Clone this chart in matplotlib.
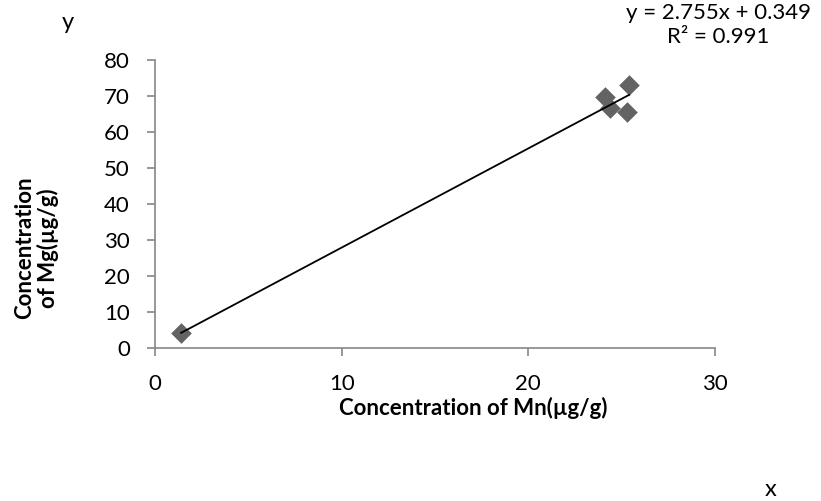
import numpy as np
import matplotlib.pyplot as plt

plt.rcParams['font.family'] = ['Lato', 'DejaVu Sans']

# Mn vs Mg concentrations
mn = [1.4, 24.1, 24.4, 25.3, 25.4]
mg = [4.2, 69.7, 66.7, 65.6, 73.1]
slope = 2.755
intercept = 0.349
r2 = 0.991

fig = plt.figure(figsize=(8.21, 5.01), dpi=100)
ax = fig.add_axes([0.1888, 0.3054, 0.6821, 0.5748])

ax.scatter(mn, mg, marker='D', s=110, color='#636363', zorder=3, linewidths=0)
xl = np.array([min(mn), max(mn)])
ax.plot(xl, slope * xl + intercept, color='black', lw=1.3, zorder=4)

ax.set_xlim(0, 30)
ax.set_ylim(0, 80)
ax.set_xticks([0, 10, 20, 30])
ax.set_yticks(range(0, 81, 10))
for s in ['top', 'right']:
    ax.spines[s].set_visible(False)
for s in ['left', 'bottom']:
    ax.spines[s].set_color('#868686')
    ax.spines[s].set_linewidth(1.2)
ax.tick_params(colors='#868686', labelcolor='black', labelsize=16, length=6, width=1.2)
ax.tick_params(axis='x', pad=13)
ax.tick_params(axis='y', pad=12)

fig.text(0.577, 0.185, 'Concentration of Mn(µg/g)', fontsize=16, fontweight='bold',
         ha='center', va='center')
fig.text(0.044, 0.505, 'Concentration\nof Mg(µg/g)', fontsize=16, fontweight='bold',
         rotation=90, ha='center', va='center', linespacing=1.1)

fig.text(0.082, 0.955, 'y', fontsize=17, ha='center', va='center')
fig.text(0.939, 0.022, 'x', fontsize=17, ha='center', va='center')

fig.text(0.875, 0.975, 'y = %.3fx + %.3f' % (slope, intercept), fontsize=16, ha='center', va='center')
fig.text(0.875, 0.926, 'R² = %.3f' % r2, fontsize=16, ha='center', va='center')

fig.savefig('out.png', dpi=100)
